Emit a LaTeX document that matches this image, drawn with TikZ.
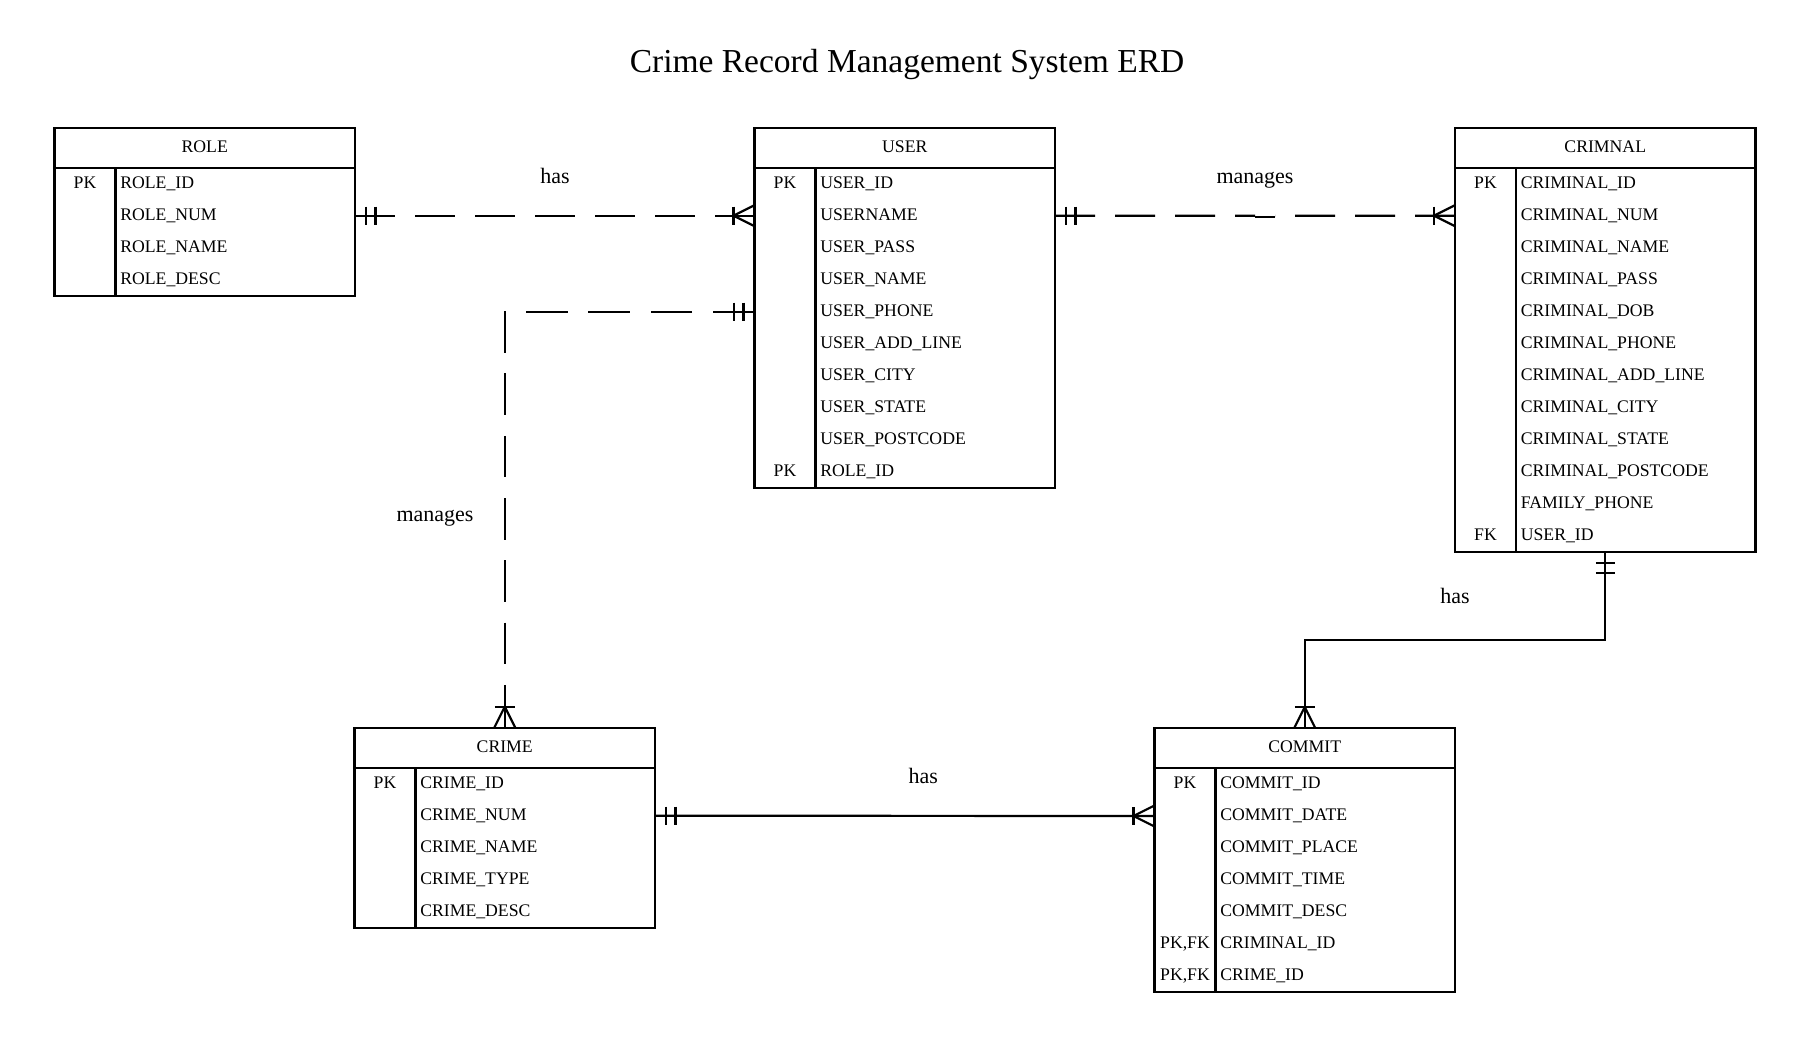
\documentclass[tikz,border=0pt]{standalone}
\usepackage{fontspec}
\setmainfont{Liberation Serif}
\usetikzlibrary{calc}

\newcommand\fieldfont{\fontsize{17.7}{17.7}\selectfont}
\newcommand\lblfont{\fontsize{22}{22}\selectfont}
\newcommand\ttlfont{\fontsize{33.5}{33.5}\selectfont}

\tikzset{
  conn/.style={line width=2.2pt, draw=black},
  entbox/.style={draw=black, line width=2.2pt, minimum width=300.5pt, inner sep=0pt, outer sep=0pt},
  fld/.style={font=\fieldfont, inner sep=0pt, outer sep=0pt},
  lbl/.style={font=\lblfont, inner sep=0pt},
  ttl/.style={font=\ttlfont, inner sep=0pt},
  dashA/.style={dash pattern=on 40pt off 20pt},
  dashB/.style={dash pattern=on 41.6pt off 20.7pt},
}

% entity: name, left x, top y, title, number of rows, rows key/field
\newcommand{\erent}[6]{%
  \node[entbox, minimum height={40+32*#5}, anchor=north west] (#1) at (#2,#3) {};
  \node[fld, anchor=base] (#1-t) at ($(#1.north)+(0,24.5)$) {#4};
  \draw[conn] ($(#1.north west)+(0,40)$) -- ($(#1.north east)+(0,40)$);
  \draw[conn] ($(#1.north west)+(61,40)$) -- ($(#1.south west)+(61,0)$);
  \foreach \k/\f [count=\i] in {#6} {
    \coordinate (#1-L\i) at ($(#1.north west)+(0,{40+32*\i-16})$);
    \coordinate (#1-R\i) at ($(#1.north east)+(0,{40+32*\i-16})$);
    \node[fld, anchor=base west] (#1-f\i) at ($(#1-L\i)+(65.8,4.4)$) {\f};
    \node[fld, anchor=base] (#1-k\i) at ($(#1-L\i)+(30.5,4.4)$) {\k};
  }
}
% double bar (mandatory one), horizontal connector; #2 = +1 right, -1 left
\newcommand{\barsH}[2]{%
  \draw[conn] ($(#1)+(#2*11,-9)$) -- ++(0,18);
  \draw[conn] ($(#1)+(#2*20.5,-9)$) -- ++(0,18);}
% double bar, vertical connector; #2 = +1 down, -1 up
\newcommand{\barsV}[2]{%
  \draw[conn] ($(#1)+(-9.5,#2*11)$) -- ++(19,0);
  \draw[conn] ($(#1)+(-9.5,#2*21)$) -- ++(19,0);}
% crow's foot (one or many), horizontal connector
\newcommand{\crowH}[2]{%
  \draw[conn] ($(#1)+(#2*21,-9)$) -- ++(0,18);
  \draw[conn] ($(#1)+(0,-10.5)$) -- ($(#1)+(#2*21,0)$) -- ($(#1)+(0,10.5)$);}
% crow's foot, vertical connector
\newcommand{\crowV}[2]{%
  \draw[conn] ($(#1)+(-10,#2*21)$) -- ++(20,0);
  \draw[conn] ($(#1)+(-10.5,0)$) -- ($(#1)+(0,#2*21)$) -- ($(#1)+(10.5,0)$);}

\begin{document}
\begin{tikzpicture}[x=1pt,y=-1pt]
\useasboundingbox (0,0) rectangle (1815,1038);
\fill[white] (0,0) rectangle (1815,1038);

\node[ttl, anchor=base] (title) at (907,72.7) {Crime Record Management System ERD};

\erent{role}{54.5}{127.7}{ROLE}{4}{PK/ROLE\_ID, /ROLE\_NUM, /ROLE\_NAME, /ROLE\_DESC}
\erent{user}{754.5}{127.7}{USER}{10}{PK/USER\_ID, /USERNAME, /USER\_PASS, /USER\_NAME, /USER\_PHONE, /USER\_ADD\_LINE, /USER\_CITY, /USER\_STATE, /USER\_POSTCODE, PK/ROLE\_ID}
\erent{crimnal}{1455}{127.7}{CRIMNAL}{12}{PK/CRIMINAL\_ID, /CRIMINAL\_NUM, /CRIMINAL\_NAME, /CRIMINAL\_PASS, /CRIMINAL\_DOB, /CRIMINAL\_PHONE, /CRIMINAL\_ADD\_LINE, /CRIMINAL\_CITY, /CRIMINAL\_STATE, /CRIMINAL\_POSTCODE, /FAMILY\_PHONE, FK/USER\_ID}
\erent{crime}{354.5}{727.7}{CRIME}{5}{PK/CRIME\_ID, /CRIME\_NUM, /CRIME\_NAME, /CRIME\_TYPE, /CRIME\_DESC}
\erent{commit}{1154.5}{728}{COMMIT}{7}{PK/COMMIT\_ID, /COMMIT\_DATE, /COMMIT\_PLACE, /COMMIT\_TIME, /COMMIT\_DESC, {PK,FK}/CRIMINAL\_ID, {PK,FK}/CRIME\_ID}

% ROLE -- USER (has)
\draw[conn, dashA] (role-R2) -- (user-L2);
\barsH{role-R2}{1}
\crowH{user-L2}{-1}
\node[lbl, anchor=base] (lhas1) at (555,183.3) {has};

% USER -- CRIMNAL (manages)
\coordinate (um) at ($(user-R2)!.5!(crimnal-L2)$);
\coordinate (um2) at ($(um)+(20,0)$);
\draw[conn, dashA] (user-R2) -- (um);
\draw[conn, dashA] (crimnal-L2) -- (um2);
\draw[conn] ($(um2)+(0,1.5)$) -- ($(um)+(0,1.5)$);
\barsH{user-R2}{1}
\crowH{crimnal-L2}{-1}
\node[lbl, anchor=base] (lman1) at (1255,183.3) {manages};

% USER -- CRIME (manages)
\draw[conn, dashB] (user-L5) -| (crime.north);
\barsH{user-L5}{-1}
\crowV{crime.north}{-1}
\node[lbl, anchor=base] (lman2) at (435,521.5) {manages};

% CRIMNAL -- COMMIT (has)
\coordinate (cm) at (0,640);
\draw[conn] (crimnal.south) -- (crimnal.south |- cm) -| (commit.north);
\barsV{crimnal.south}{1}
\crowV{commit.north}{-1}
\node[lbl, anchor=base] (lhas2) at (1455,603.3) {has};

% CRIME -- COMMIT (has)
\draw[conn] (crime-R2) -- (commit-L2);
\barsH{crime-R2}{1}
\crowH{commit-L2}{-1}
\node[lbl, anchor=base] (lhas3) at (923.3,783.3) {has};
\end{tikzpicture}
\end{document}
